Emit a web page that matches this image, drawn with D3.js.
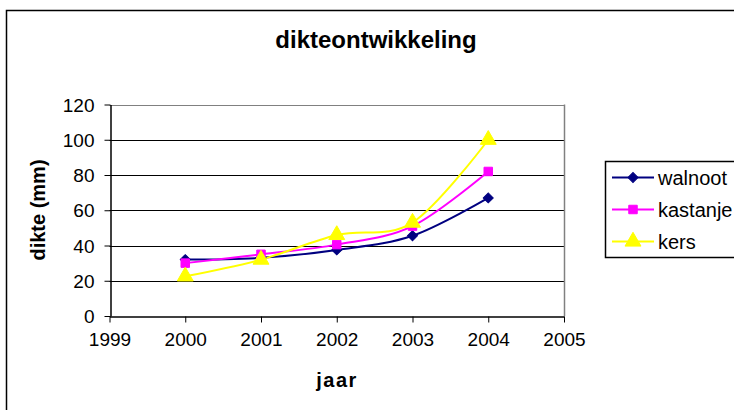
<!DOCTYPE html>
<html>
<head>
<meta charset="utf-8">
<script src="https://cdn.jsdelivr.net/npm/d3@7"></script>
<style>
  html, body { margin: 0; padding: 0; background: #fff; }
  svg { display: block; font-family: "Liberation Sans", Arial, sans-serif; }
</style>
</head>
<body>
<svg id="chart" width="734" height="410"></svg>
<script>
const years = [2000, 2001, 2002, 2003, 2004];
const walnoot = [32, 33, 37.5, 45.5, 67];
const kastanje = [30, 35, 40.5, 51, 82];
const kers = [22.5, 32, 46, 53, 100];
const seriesNames = ["walnoot", "kastanje", "kers"];
const xTicks = [1999, 2000, 2001, 2002, 2003, 2004, 2005];
const yTicks = [0, 20, 40, 60, 80, 100, 120];
const title = "dikteontwikkeling";
const xTitle = "jaar";
const yTitle = "dikte (mm)";

const seriesValues = [walnoot, kastanje, kers];
const colors = ["#000080", "#FF00FF", "#FFFF00"];
const symbols = [d3.symbolSquare, d3.symbolSquare, d3.symbolTriangle];
const symbolSizes = [50, 72, 110];
const symbolRot = [45, 0, 0];

const svg = d3.select("#chart");

// outer chart border
svg.append("rect").attr("x", 6.5).attr("y", 10.5).attr("width", 900).attr("height", 600)
  .attr("fill", "none").attr("stroke", "#000").attr("stroke-width", 1.5);

const x = d3.scaleLinear().domain([1999, 2005]).range([109.5, 564]);
const y = d3.scaleLinear().domain([0, 120]).range([316, 104.5]);

// gridlines
svg.append("g").selectAll("line").data(yTicks.filter(t => t > 0)).join("line")
  .attr("x1", x(1999)).attr("x2", x(2005))
  .attr("y1", d => Math.round(y(d)) + 0.5).attr("y2", d => Math.round(y(d)) + 0.5)
  .attr("stroke", d => d === 120 ? "#808080" : "#000").attr("stroke-width", 1);

// plot right border
svg.append("line").attr("x1", Math.round(x(2005)) + 0.5).attr("x2", Math.round(x(2005)) + 0.5)
  .attr("y1", y(120)).attr("y2", y(0)).attr("stroke", "#808080").attr("stroke-width", 1.5);

// axes
const xAxis = svg.append("g").attr("transform", `translate(0,${Math.round(y(0)) + 0.5})`)
  .call(d3.axisBottom(x).tickValues(xTicks).tickFormat(d3.format("d")).tickSizeInner(6).tickSizeOuter(0).tickPadding(10));
const yAxis = svg.append("g").attr("transform", `translate(${Math.round(x(1999)) + 0.5},0)`)
  .call(d3.axisLeft(y).tickValues(yTicks).tickSizeInner(6).tickSizeOuter(0).tickPadding(10));
[xAxis, yAxis].forEach(a => {
  a.select(".domain").attr("stroke", "#000").attr("stroke-width", 1.5);
  a.selectAll(".tick line").attr("stroke", "#000");
  a.selectAll("text").attr("font-size", 19).attr("fill", "#000")
    .attr("font-family", "'Liberation Sans', Arial, sans-serif");
});
yAxis.selectAll("text").attr("dy", "0.35em");

// lines
const line = d3.line().x((d, i) => x(years[i])).y(d => y(d)).curve(d3.curveCatmullRom.alpha(0));
seriesValues.forEach((vals, s) => {
  svg.append("path").datum(vals).attr("d", line)
    .attr("fill", "none").attr("stroke", colors[s]).attr("stroke-width", 2);
});
seriesValues.forEach((vals, s) => {
  svg.append("g").selectAll("path").data(vals).join("path")
    .attr("transform", (d, i) => `translate(${x(years[i])},${y(d)}) rotate(${symbolRot[s]})`)
    .attr("d", d3.symbol().type(symbols[s]).size(symbolSizes[s]))
    .attr("fill", colors[s]).attr("stroke", colors[s]).attr("stroke-width", 1);
});

// titles
svg.append("text").attr("x", 376).attr("y", 48).attr("text-anchor", "middle")
  .attr("font-size", 24).attr("font-weight", "bold").text(title);
svg.append("text").attr("x", 337).attr("y", 387).attr("text-anchor", "middle")
  .attr("font-size", 20).attr("font-weight", "bold").attr("letter-spacing", 1.5).text(xTitle);
svg.append("text").attr("transform", "translate(45,210) rotate(-90)").attr("text-anchor", "middle")
  .attr("font-size", 20).attr("font-weight", "bold").text(yTitle);

// legend
svg.append("rect").attr("x", 605.5).attr("y", 161.5).attr("width", 200).attr("height", 96)
  .attr("fill", "#fff").attr("stroke", "#000").attr("stroke-width", 1.5);
const ly = d3.scalePoint().domain(seriesNames).range([177.5, 241.5]);
seriesNames.forEach((name, s) => {
  const yy = ly(name);
  svg.append("line").attr("x1", 612).attr("x2", 654).attr("y1", yy).attr("y2", yy)
    .attr("stroke", colors[s]).attr("stroke-width", 2);
  svg.append("path").attr("transform", `translate(633,${yy}) rotate(${symbolRot[s]})`)
    .attr("d", d3.symbol().type(symbols[s]).size(symbolSizes[s]))
    .attr("fill", colors[s]).attr("stroke", colors[s]);
  svg.append("text").attr("x", 658).attr("y", yy).attr("dy", "0.35em")
    .attr("font-size", 20).text(name);
});
</script>
</body>
</html>
